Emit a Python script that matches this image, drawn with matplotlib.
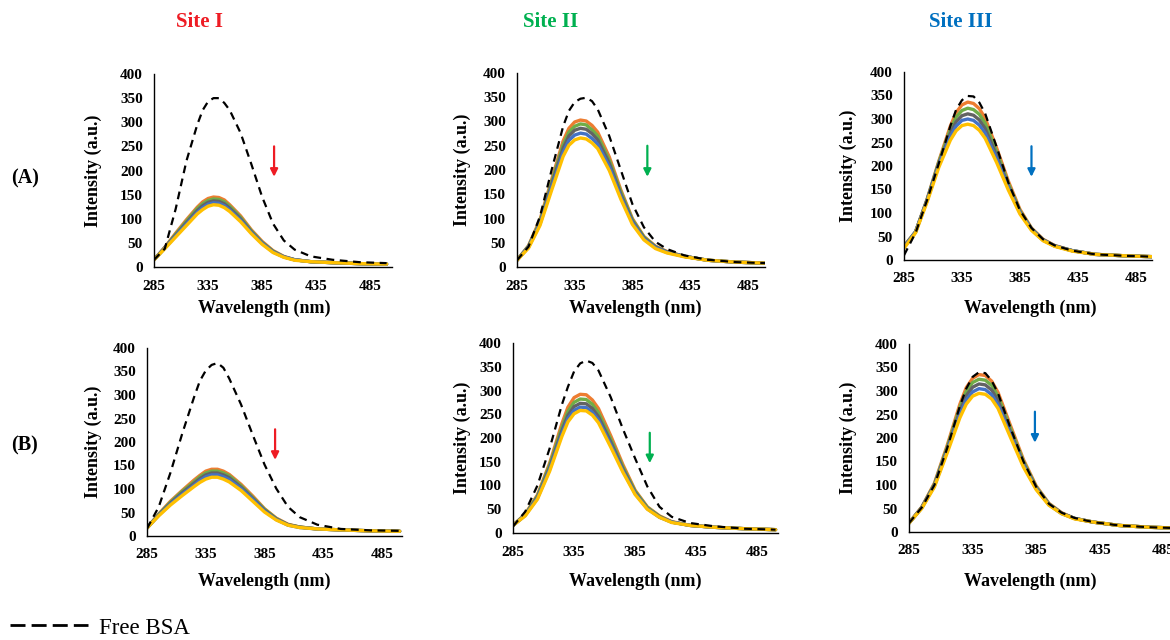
import matplotlib
matplotlib.use("Agg")
import matplotlib.pyplot as plt
from matplotlib.lines import Line2D

plt.rcParams['font.family'] = ['Liberation Serif', 'DejaVu Serif']

# wavelength grid (nm)
wl = [285, 295, 305, 315, 325, 330, 335, 340, 345, 350, 355, 365, 375, 385, 395, 405, 415, 430, 450, 475, 500]

# free BSA spectra
free_A1 = [15, 38, 120, 220, 295, 325, 343, 350, 350, 340, 325, 278, 213, 145, 90, 55, 36, 22, 15, 10, 8]
free_A2 = [14, 42, 105, 200, 290, 322, 340, 347, 349, 342, 325, 270, 200, 130, 82, 52, 37, 24, 15, 10, 8]
free_A3 = [10, 58, 128, 205, 285, 320, 340, 349, 348, 335, 312, 240, 165, 106, 68, 44, 31, 20, 12, 9, 7]
free_B1 = [16, 62, 135, 218, 295, 330, 352, 364, 368, 358, 335, 280, 215, 152, 101, 62, 40, 24, 15, 12, 11]
free_B2 = [14, 45, 100, 178, 270, 308, 340, 357, 363, 358, 342, 286, 219, 157, 98, 55, 34, 21, 14, 9, 7]
free_B3 = [19, 52, 100, 178, 268, 305, 330, 340, 338, 322, 295, 220, 150, 96, 60, 41, 30, 21, 14, 10, 8]

# quenched spectra (titration steps, top to bottom)
quench_A1 = [
    [15, 41, 70, 98, 124, 135, 142, 145, 144, 139, 129, 106, 77, 53, 34, 22, 15, 11, 9, 7, 6],
    [15, 40, 68, 95, 121, 131, 138, 141, 140, 135, 126, 103, 75, 51, 33, 21, 15, 11, 9, 7, 6],
    [15, 40, 66, 92, 117, 127, 134, 137, 136, 131, 122, 100, 73, 50, 32, 21, 15, 11, 9, 7, 6],
    [15, 39, 64, 89, 113, 123, 130, 133, 132, 127, 118, 97, 71, 49, 31, 21, 15, 11, 9, 7, 6],
    [15, 38, 62, 86, 110, 119, 126, 129, 128, 123, 115, 94, 69, 47, 30, 20, 14, 11, 9, 7, 6],
]
quench_A2 = [
    [14, 44, 98, 180, 260, 286, 299, 303, 301, 292, 278, 227, 159, 100, 63, 43, 32, 22, 14, 10, 8],
    [14, 43, 95, 175, 252, 278, 290, 295, 293, 283, 270, 220, 155, 98, 62, 42, 31, 22, 14, 10, 8],
    [14, 42, 92, 170, 245, 270, 282, 286, 284, 275, 262, 214, 150, 95, 60, 41, 31, 22, 14, 10, 8],
    [14, 41, 89, 164, 236, 261, 272, 276, 274, 265, 253, 207, 145, 92, 58, 40, 30, 22, 14, 10, 8],
    [14, 39, 86, 158, 228, 251, 262, 266, 264, 256, 244, 199, 140, 88, 56, 38, 29, 21, 14, 10, 8],
]
quench_A3 = [
    [30, 60, 130, 210, 285, 314, 330, 336, 333, 322, 302, 238, 168, 108, 68, 44, 31, 20, 12, 9, 7],
    [29, 60, 129, 208, 278, 304, 318, 323, 320, 310, 291, 230, 163, 105, 67, 43, 30, 20, 12, 9, 7],
    [28, 60, 128, 205, 270, 294, 307, 311, 308, 298, 280, 222, 158, 103, 66, 43, 30, 20, 12, 9, 7],
    [27, 60, 127, 202, 263, 285, 297, 300, 297, 287, 270, 215, 154, 101, 65, 42, 30, 20, 12, 9, 7],
    [25, 58, 124, 197, 255, 275, 286, 289, 286, 276, 259, 207, 149, 98, 63, 41, 29, 19, 12, 9, 7],
]
quench_B1 = [
    [17, 47, 74, 97, 119, 129, 138, 142, 142, 138, 131, 110, 85, 58, 38, 25, 19, 15, 13, 11, 10],
    [17, 46, 72, 95, 115, 126, 134, 138, 138, 134, 128, 107, 82, 57, 37, 24, 19, 15, 13, 11, 10],
    [17, 45, 70, 92, 112, 122, 130, 134, 134, 130, 124, 104, 80, 55, 36, 24, 19, 15, 13, 11, 10],
    [17, 44, 68, 89, 108, 118, 126, 130, 130, 126, 120, 101, 78, 53, 35, 23, 18, 15, 13, 11, 10],
    [17, 43, 66, 86, 105, 114, 121, 125, 125, 121, 115, 97, 74, 51, 34, 23, 18, 15, 13, 11, 10],
]
quench_B2 = [
    [16, 40, 80, 147, 230, 265, 285, 292, 291, 280, 262, 205, 144, 90, 55, 36, 24, 16, 12, 9, 7],
    [16, 39, 78, 143, 222, 256, 275, 282, 281, 271, 253, 198, 139, 88, 54, 35, 23, 16, 12, 9, 7],
    [16, 38, 75, 138, 215, 248, 266, 273, 272, 262, 245, 192, 135, 85, 52, 34, 23, 16, 12, 9, 7],
    [16, 37, 73, 134, 209, 241, 258, 265, 264, 254, 238, 186, 131, 83, 51, 33, 23, 16, 12, 9, 7],
    [16, 36, 71, 130, 203, 234, 251, 258, 257, 248, 232, 181, 128, 81, 50, 33, 22, 16, 12, 9, 7],
]
quench_B3 = [
    [19, 53, 104, 184, 272, 307, 327, 335, 333, 321, 297, 225, 154, 98, 61, 41, 29, 21, 14, 10, 8],
    [19, 52, 102, 180, 265, 299, 318, 325, 323, 312, 289, 219, 150, 96, 60, 40, 29, 21, 14, 10, 8],
    [19, 52, 100, 176, 258, 290, 308, 315, 313, 302, 280, 212, 146, 94, 59, 40, 29, 21, 14, 10, 8],
    [19, 51, 98, 172, 250, 281, 298, 305, 303, 292, 271, 206, 142, 92, 58, 39, 29, 21, 14, 10, 8],
    [19, 50, 96, 168, 243, 272, 289, 295, 293, 283, 263, 200, 138, 90, 57, 39, 28, 21, 14, 10, 8],
]

curve_colors = ['#ED7D31', '#70AD47', '#636363', '#4472C4', '#FFC000']
site_names = ['Site I', 'Site II', 'Site III']
site_colors = ['#EE1C24', '#00B050', '#0070C0']
row_names = ['(A)', '(B)']
xticks = [285, 335, 385, 435, 485]
yticks = [0, 50, 100, 150, 200, 250, 300, 350, 400]

# arrow (x, top, tip) in data units
arrows = [[(396, 250, 187), (398, 250, 186), (395, 242, 177)],
          [(394, 227, 162), (397, 211, 147), (384, 256, 190)]]

W, H = 1170, 640
fig = plt.figure(figsize=(W / 100, H / 100), dpi=100)

# pixel boxes: left, right, top, bottom ; xmax
boxes = [[(154, 392, 74, 267, 505), (517, 765, 73, 267, 500), (904, 1152, 72, 260, 499)],
         [(147, 402, 348, 536, 502), (513, 778, 343, 533, 502), (909, 1185, 344, 532, 502)]]
# axis label centres in pixels: (xlabel x, xlabel y, ylabel x)
label_pos = [[(264, 308, 93), (635, 308, 462), (1030, 308, 848)],
             [(264, 581, 93), (635, 581, 462), (1030, 581, 848)]]

frees = [[free_A1, free_A2, free_A3], [free_B1, free_B2, free_B3]]
quenches = [[quench_A1, quench_A2, quench_A3], [quench_B1, quench_B2, quench_B3]]

for r in range(2):
    for c in range(3):
        l, rt, t, b, xmax = boxes[r][c]
        ax = fig.add_axes([l / W, 1 - b / H, (rt - l) / W, (b - t) / H])
        for k, q in enumerate(quenches[r][c]):
            ax.plot(wl, q, color=curve_colors[k], lw=2.4, solid_capstyle='round')
        ax.plot(wl, frees[r][c], color='black', lw=1.6, ls=(0, (3.5, 2.5)))
        ax.set_xlim(285, xmax)
        ax.set_ylim(0, 400)
        ax.set_xticks(xticks)
        ax.set_yticks(yticks)
        for s in ['top', 'right']:
            ax.spines[s].set_visible(False)
        for s in ['left', 'bottom']:
            ax.spines[s].set_linewidth(1.0)
        ax.tick_params(length=0, labelsize=11)
        ax.tick_params(axis='y', pad=8)
        ax.tick_params(axis='x', pad=9)
        for lab in ax.get_xticklabels() + ax.get_yticklabels():
            lab.set_fontweight('bold')
        ax.set_xlabel('Wavelength (nm)', fontsize=13, fontweight='bold')
        ax.set_ylabel('Intensity (a.u.)', fontsize=13, fontweight='bold')
        lx, ly, yx = label_pos[r][c]
        ax.xaxis.set_label_coords((lx - l) / (rt - l), (b - ly) / (b - t))
        ax.xaxis.label.set_va('center')
        ax.yaxis.set_label_coords((yx - l) / (rt - l), 0.5)
        ax.yaxis.label.set_va('center')
        ax.patch.set_alpha(0)
        xa, ytop, ytip = arrows[r][c]
        ax.annotate('', xy=(xa, ytip), xytext=(xa, ytop),
                    arrowprops=dict(arrowstyle='-|>', color=site_colors[c], lw=1.6,
                                    mutation_scale=11, shrinkA=0, shrinkB=0))

# column titles
for c, x in enumerate([200, 551, 961]):
    fig.text(x / W, 1 - 22 / H, site_names[c], color=site_colors[c], fontsize=15,
             fontweight='bold', ha='center', va='center')

# row labels
for r, y in enumerate([178, 445]):
    fig.text(25 / W, 1 - y / H, row_names[r], fontsize=14.5, fontweight='bold',
             ha='center', va='center')

# legend
handle = Line2D([], [], color='black', lw=2.0, ls=(0, (5.4, 2.2)))
fig.legend(handles=[handle], labels=['Free BSA'], loc='center left',
           bbox_to_anchor=(10 / W, 1 - 628 / H), frameon=False, fontsize=16.5,
           handlelength=3.4, handletextpad=0.5, borderpad=0, borderaxespad=0)

fig.savefig('out.png', dpi=100)
